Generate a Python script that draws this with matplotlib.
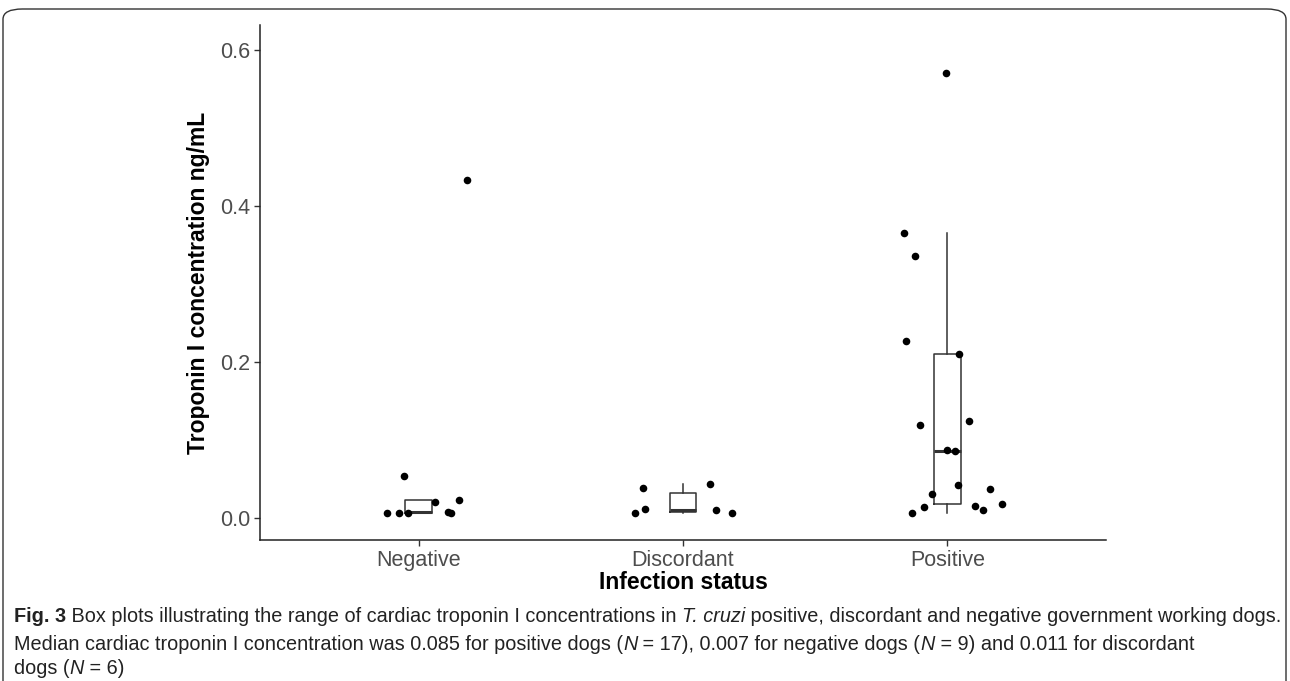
import matplotlib
matplotlib.use("Agg")
import matplotlib.pyplot as plt
from matplotlib.patches import FancyBboxPatch

# ── Data ─────────────────────────────────────────────────────────────────────
categories = ["Negative", "Discordant", "Positive"]

neg_values = [0.0064, 0.0064, 0.0064, 0.054, 0.0205, 0.0077, 0.0064, 0.023, 0.433]
neg_jitter = [-0.121, -0.076, -0.042, -0.057, 0.061, 0.110, 0.121, 0.152, 0.182]

dis_values = [0.0064, 0.039, 0.012, 0.044, 0.010, 0.0064]
dis_jitter = [-0.182, -0.152, -0.144, 0.102, 0.125, 0.186]

pos_values = [0.365, 0.336, 0.227, 0.119, 0.211, 0.124, 0.087, 0.086, 0.042,
              0.031, 0.014, 0.0064, 0.015, 0.010, 0.038, 0.018, 0.57]
pos_jitter = [-0.163, -0.121, -0.155, -0.102, 0.045, 0.080, 0.0, 0.027, 0.042,
              -0.057, -0.087, -0.133, 0.106, 0.136, 0.163, 0.205, -0.004]

y_ticks = [0.0, 0.2, 0.4, 0.6]

caption_lines = [
    [("Fig. 3", "bold"), (" Box plots illustrating the range of cardiac troponin I concentrations in ", "normal"),
     ("T. cruzi", "italic"), (" positive, discordant and negative government working dogs.", "normal")],
    [("Median cardiac troponin I concentration was 0.085 for positive dogs (", "normal"), ("N", "italic"),
     (" = 17), 0.007 for negative dogs (", "normal"), ("N", "italic"),
     (" = 9) and 0.011 for discordant", "normal")],
    [("dogs (", "normal"), ("N", "italic"), (" = 6)", "normal")],
]

# ── Figure ───────────────────────────────────────────────────────────────────
plt.rcParams['font.family'] = ['Liberation Sans', 'DejaVu Sans']
fig = plt.figure(figsize=(12.9, 6.81), dpi=100)
ax = fig.add_axes([260 / 1290, 1 - 540 / 681, 846 / 1290, 515 / 681])

groups = [neg_values, dis_values, pos_values]
jitters = [neg_jitter, dis_jitter, pos_jitter]
positions = [1, 2, 3]

box_color = "#333333"
ax.boxplot(
    groups, positions=positions, widths=0.1, whis=1.5, showfliers=False,
    patch_artist=False,
    boxprops=dict(color=box_color, linewidth=1.1),
    whiskerprops=dict(color=box_color, linewidth=1.1),
    capprops=dict(linewidth=0),
    medianprops=dict(color=box_color, linewidth=2.2),
    zorder=2,
)

for pos, vals, jit in zip(positions, groups, jitters):
    xs = [pos + j for j in jit]
    ax.scatter(xs, vals, s=30, color="black", zorder=3, linewidths=0)

ax.set_xlim(0.4, 3.6)
ax.set_ylim(-0.028, 0.632)
ax.set_xticks(positions)
ax.set_xticklabels(categories)
ax.set_yticks(y_ticks)
ax.set_yticklabels([f"{t:.1f}" for t in y_ticks])
ax.tick_params(axis="both", labelsize=15.5, labelcolor="#4D4D4D", color="#333333",
               length=4, width=1.0, pad=3)

for side in ["top", "right"]:
    ax.spines[side].set_visible(False)
for side in ["left", "bottom"]:
    ax.spines[side].set_color("#222222")
    ax.spines[side].set_linewidth(1.1)

ax.set_xlabel("Infection status", fontsize=16.5, fontweight="bold", labelpad=0)
ax.set_ylabel("Troponin I concentration ng/mL", fontsize=16.5, fontweight="bold", labelpad=7)

# ── Border ───────────────────────────────────────────────────────────────────
border = FancyBboxPatch(
    (3 / 1290, -0.05), 1283 / 1290, 1.05 - 9 / 681,
    boxstyle="round,pad=0,rounding_size=0.015",
    transform=fig.transFigure, fill=False, edgecolor="#333333", linewidth=1.0,
)
fig.add_artist(border)

# ── Caption ──────────────────────────────────────────────────────────────────
cap_family = ['Liberation Sans Narrow', 'Liberation Sans', 'DejaVu Sans']
cap_size = 14.3
line_y = [617, 645, 669]
fig.canvas.draw()
renderer = fig.canvas.get_renderer()
for segs, yp in zip(caption_lines, line_y):
    x = 14
    for txt, style in segs:
        kw = dict(fontsize=cap_size, family=cap_family, va="center", ha="left", color="#222222")
        if style == "bold":
            kw["fontweight"] = "bold"
        elif style == "italic":
            kw["fontstyle"] = "italic"
        t = fig.text(x / 1290, 1 - yp / 681, txt, **kw)
        bb = t.get_window_extent(renderer=renderer)
        x += bb.width

fig.savefig("out.png", dpi=100, facecolor="white")
